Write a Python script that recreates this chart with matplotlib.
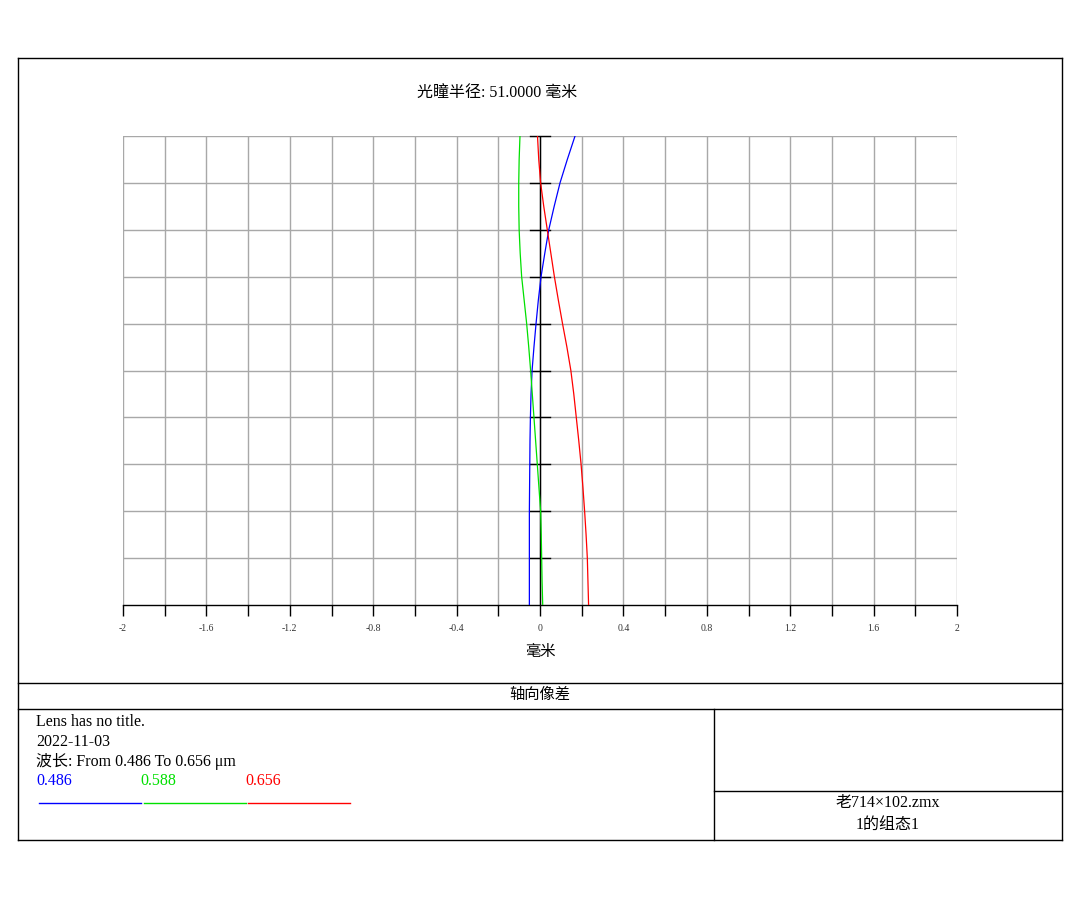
import matplotlib
matplotlib.use('Agg')
import matplotlib.pyplot as plt
from matplotlib.lines import Line2D

plt.rcParams['font.family'] = ['Liberation Serif', 'Noto Sans CJK SC']

# 光瞳坐标 (归一化) 与三个波长的轴向像差 (毫米)
pupil = [0.0, 0.05, 0.1, 0.15, 0.2, 0.25, 0.3, 0.35, 0.4, 0.45, 0.5,
         0.55, 0.6, 0.65, 0.7, 0.75, 0.8, 0.85, 0.9, 0.95, 1.0]
blue_486 = [-0.051, -0.051, -0.051, -0.051, -0.051, -0.050, -0.049, -0.048, -0.046, -0.043, -0.038,
            -0.029, -0.019, -0.008, 0.005, 0.023, 0.042, 0.068, 0.096, 0.131, 0.168]
green_588 = [0.013, 0.010, 0.008, 0.006, 0.003, -0.005, -0.013, -0.021, -0.029, -0.037, -0.045,
             -0.054, -0.064, -0.076, -0.088, -0.095, -0.100, -0.102, -0.102, -0.100, -0.096]
red_656 = [0.233, 0.230, 0.227, 0.221, 0.214, 0.206, 0.197, 0.186, 0.174, 0.162, 0.148,
           0.129, 0.108, 0.088, 0.069, 0.052, 0.035, 0.018, 0.003, -0.006, -0.012]

wavelengths = ['0.486', '0.588', '0.656']
colors = ['#0000ff', '#00e000', '#ff0000']

x_major = [-2, -1.6, -1.2, -0.8, -0.4, 0, 0.4, 0.8, 1.2, 1.6, 2]
x_labels = ['-2', '-1.6', '-1.2', '-0.8', '-0.4', '0', '0.4', '0.8', '1.2', '1.6', '2']
x_minor = [-1.8, -1.4, -1.0, -0.6, -0.2, 0.2, 0.6, 1.0, 1.4, 1.8]
y_grid = [0.1 * i for i in range(1, 11)]

W, H = 1080, 900
fig = plt.figure(figsize=(W / 100, H / 100), dpi=100)

ax = fig.add_axes([123 / W, 1 - 605 / H, 834 / W, 469 / H])
ax.set_xlim(-2, 2)
ax.set_ylim(0, 1)

# 网格
for xv in x_major + x_minor:
    ax.axvline(xv, color='#a8a8a8', lw=1.0, zorder=1)
for yv in y_grid:
    ax.axhline(yv, color='#a8a8a8', lw=1.0, zorder=1)

# 中心轴与刻度
ax.axvline(0, color='black', lw=1.0, zorder=2)
for yv in y_grid:
    ax.plot([-0.048, 0.048], [yv, yv], color='black', lw=1.0, zorder=2, clip_on=False)

# 曲线
for vals, c in zip([blue_486, green_588, red_656], colors):
    ax.plot(vals, pupil, color=c, lw=0.9, zorder=3)

for s in ['left', 'top', 'right']:
    ax.spines[s].set_visible(False)
ax.spines['bottom'].set_color('black')
ax.spines['bottom'].set_linewidth(1.0)
ax.set_yticks([])
ax.set_xticks(x_major)
ax.set_xticklabels(x_labels, fontsize=7, color='#333333')
ax.set_xticks(x_minor, minor=True)
ax.tick_params(axis='x', which='both', direction='out', length=8, width=1.0,
               color='black', pad=6)
ax.set_xlabel('毫米', fontsize=11, labelpad=8)

fig.text(497 / W, 1 - 93 / H, '光瞳半径: 51.0000 毫米', ha='center', va='center', fontsize=11.5)


# 外框与表格线
def fline(x0, y0, x1, y1, c='black'):
    fig.add_artist(Line2D([x0 / W, x1 / W], [1 - y0 / H, 1 - y1 / H],
                          transform=fig.transFigure, color=c, lw=1.0))


fline(18, 58, 1062, 58)
fline(18, 840, 1062, 840)
fline(18, 58, 18, 840)
fline(1062, 58, 1062, 840)
fline(18, 683, 1062, 683)
fline(18, 709, 1062, 709)
fline(714, 709, 714, 840)
fline(714, 791, 1062, 791)

fig.text(540 / W, 1 - 695 / H, '轴向像差', ha='center', va='center', fontsize=11)

fig.text(36 / W, 1 - 722 / H, 'Lens has no title.', va='center', fontsize=11.5)
fig.text(36 / W, 1 - 742 / H, '2022-11-03', va='center', fontsize=11.5)
fig.text(36 / W, 1 - 761 / H, '波长: From 0.486 To 0.656 μm', va='center', fontsize=11.5)

for i, (lab, c) in enumerate(zip(wavelengths, colors)):
    x0 = 36 + i * 104.5
    fig.text(x0 / W, 1 - 781 / H, lab, va='center', fontsize=11.5, color=c)
    lx = 39 + i * 104.5
    fline(lx, 803, lx + 102, 803, c)

fig.text(888 / W, 1 - 803 / H, '老714×102.zmx', ha='center', va='center', fontsize=11.5)
fig.text(888 / W, 1 - 825 / H, '1的组态1', ha='center', va='center', fontsize=11.5)

fig.savefig('out.png', dpi=100, facecolor='white')
